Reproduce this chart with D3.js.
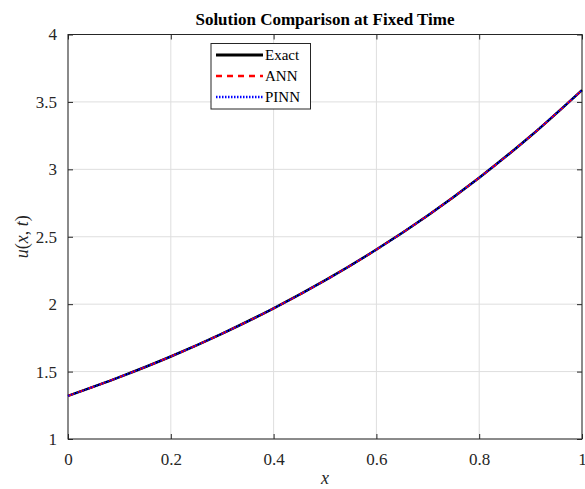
<!DOCTYPE html>
<html>
<head>
<meta charset="utf-8">
<script src="https://cdn.jsdelivr.net/npm/d3@7"></script>
<style>
  body { margin: 0; background: #fff; }
  text { font-family: "Liberation Serif", "DejaVu Serif", serif; }
</style>
</head>
<body>
<div id="chart"></div>
<script>
// ── Data ─────────────────────────────────────────────────────────────────
const xValues = [0, 0.1, 0.2, 0.3, 0.4, 0.5, 0.6, 0.7, 0.8, 0.9, 1.0];
const exactValues = [1.32, 1.459, 1.612, 1.782, 1.969, 2.176, 2.405, 2.658, 2.938, 3.247, 3.588];
const annValues   = [1.32, 1.459, 1.612, 1.782, 1.969, 2.176, 2.405, 2.658, 2.938, 3.247, 3.588];
const pinnValues  = [1.32, 1.459, 1.612, 1.782, 1.969, 2.176, 2.405, 2.658, 2.938, 3.247, 3.588];
const xTicks = [0, 0.2, 0.4, 0.6, 0.8, 1];
const yTicks = [1, 1.5, 2, 2.5, 3, 3.5, 4];
const seriesNames = ["Exact", "ANN", "PINN"];

// ── Dimensions ───────────────────────────────────────────────────────────
const W = 585, H = 489;
const margin = { top: 34.5, right: 3, bottom: 50, left: 68 };
const width = W - margin.left - margin.right;
const height = H - margin.top - margin.bottom;

const svg = d3.select("#chart").append("svg")
  .attr("width", W).attr("height", H);

const g = svg.append("g")
  .attr("transform", `translate(${margin.left},${margin.top})`);

// ── Scales ───────────────────────────────────────────────────────────────
const x = d3.scaleLinear().domain([0, 1]).range([0, width]);
const y = d3.scaleLinear().domain([1, 4]).range([height, 0]);

// ── Grid ─────────────────────────────────────────────────────────────────
g.append("g").selectAll("line").data(xTicks).join("line")
  .attr("x1", d => x(d)).attr("x2", d => x(d))
  .attr("y1", 0).attr("y2", height)
  .attr("stroke", "#dedede").attr("stroke-width", 1);
g.append("g").selectAll("line").data(yTicks).join("line")
  .attr("y1", d => y(d)).attr("y2", d => y(d))
  .attr("x1", 0).attr("x2", width)
  .attr("stroke", "#dedede").attr("stroke-width", 1);

// ── Axes ─────────────────────────────────────────────────────────────────
const axisColor = "#262626";
const styleAxis = (ax) => {
  ax.attr("font-family", null).attr("font-size", null);
  ax.select(".domain").remove();
  ax.selectAll("line").attr("stroke", axisColor);
  ax.selectAll("text").attr("fill", axisColor)
    .style("font-family", '"Liberation Serif", serif')
    .style("font-size", "17px");
};

g.append("g")
  .attr("transform", `translate(0,${height})`)
  .call(d3.axisBottom(x).tickValues(xTicks).tickSize(-5).tickPadding(14)
    .tickFormat(d3.format("")))
  .call(styleAxis);

g.append("g")
  .call(d3.axisLeft(y).tickValues(yTicks).tickSize(-5).tickPadding(11)
    .tickFormat(d3.format("")))
  .call(styleAxis);

g.append("g")
  .call(d3.axisTop(x).tickValues(xTicks).tickSize(-5).tickFormat(""))
  .call(styleAxis);

g.append("g")
  .attr("transform", `translate(${width},0)`)
  .call(d3.axisRight(y).tickValues(yTicks).tickSize(-5).tickFormat(""))
  .call(styleAxis);

g.append("rect")
  .attr("width", width).attr("height", height)
  .attr("fill", "none").attr("stroke", axisColor).attr("stroke-width", 1);

// ── Lines ────────────────────────────────────────────────────────────────
const line = d3.line()
  .x((d, i) => x(xValues[i]))
  .y(d => y(d))
  .curve(d3.curveMonotoneX);

const styles = [
  { color: "#000000", width: 2.5, dash: null },
  { color: "#ff0000", width: 2, dash: "6,5" },
  { color: "#0000ff", width: 2, dash: "1.5,1.5" },
];

[exactValues, annValues, pinnValues].forEach((vals, i) => {
  g.append("path")
    .datum(vals)
    .attr("d", line)
    .attr("fill", "none")
    .attr("stroke", styles[i].color)
    .attr("stroke-width", styles[i].width)
    .attr("stroke-dasharray", styles[i].dash);
});

// ── Legend ───────────────────────────────────────────────────────────────
const legend = svg.append("g").attr("transform", "translate(211,43.5)");
legend.append("rect")
  .attr("width", 99.5).attr("height", 65.5)
  .attr("fill", "#fff").attr("stroke", axisColor).attr("stroke-width", 1);

seriesNames.forEach((name, i) => {
  const ly = 11.5 + i * 21;
  legend.append("line")
    .attr("x1", 5).attr("x2", 52)
    .attr("y1", ly).attr("y2", ly)
    .attr("stroke", styles[i].color)
    .attr("stroke-width", styles[i].width + 0.5)
    .attr("stroke-dasharray", styles[i].dash);
  legend.append("text")
    .attr("x", 54).attr("y", ly + 5)
    .style("font-size", "15px")
    .attr("fill", "#000")
    .text(name);
});

// ── Title & labels ───────────────────────────────────────────────────────
svg.append("text")
  .attr("x", margin.left + width / 2).attr("y", 25)
  .attr("text-anchor", "middle")
  .style("font-size", "17px").style("font-weight", "bold")
  .text("Solution Comparison at Fixed Time");

svg.append("text")
  .attr("x", margin.left + width / 2).attr("y", 484)
  .attr("text-anchor", "middle")
  .style("font-size", "18px").style("font-style", "italic")
  .attr("fill", axisColor)
  .text("x");

svg.append("text")
  .attr("transform", `translate(28,${margin.top + height / 2}) rotate(-90)`)
  .attr("text-anchor", "middle")
  .style("font-size", "18px")
  .attr("fill", axisColor)
  .html('<tspan font-style="italic">u</tspan>(<tspan font-style="italic">x</tspan>, <tspan font-style="italic">t</tspan>)');
</script>
</body>
</html>
